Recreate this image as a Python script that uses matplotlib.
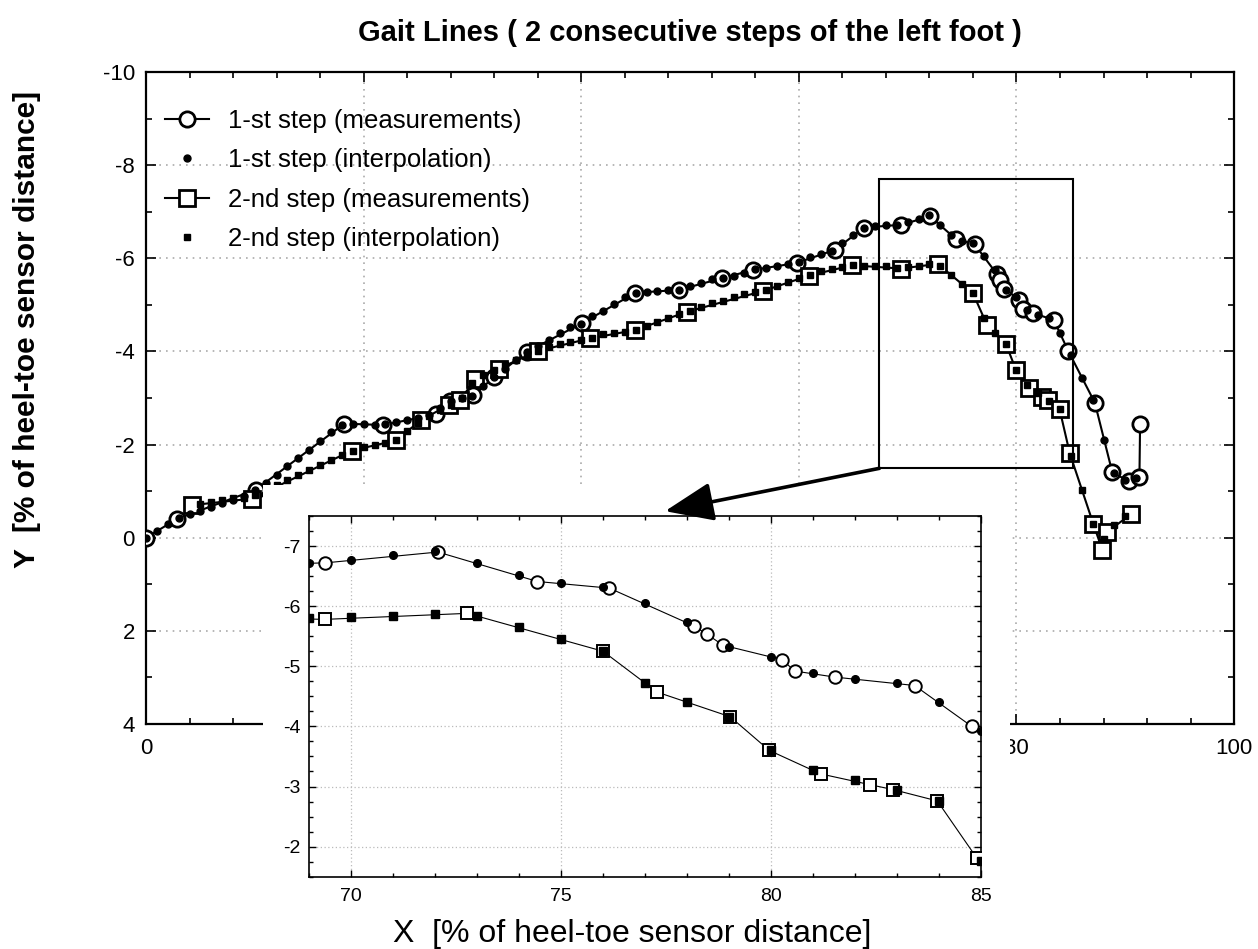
import matplotlib

matplotlib.use("Agg")
import matplotlib.pyplot as plt
from matplotlib.patches import Rectangle, FancyArrowPatch
from matplotlib.ticker import MultipleLocator

plt.rcParams["font.family"] = ["Liberation Sans", "DejaVu Sans"]
plt.rcParams["xtick.direction"] = "in"
plt.rcParams["ytick.direction"] = "in"
plt.rcParams["axes.unicode_minus"] = False

# 1-st step: measured points (in drawing order)
step1_x = [0.0, 2.82, 10.08, 18.23, 21.8, 26.65, 27.94, 30.08, 32.0, 35.0, 40.1, 44.98,
           48.95, 52.9, 55.8, 59.8, 63.3, 66.0, 69.39, 72.07, 74.44, 76.15, 78.17, 78.48,
           78.86, 80.26, 80.57, 81.52, 83.42, 84.78, 87.2, 88.8, 90.3, 91.3, 91.36]
step1_y = [0.0, -0.40, -1.03, -2.45, -2.42, -2.65, -2.94, -3.06, -3.45, -3.99, -4.61, -5.26,
           -5.32, -5.57, -5.75, -5.90, -6.18, -6.66, -6.72, -6.90, -6.41, -6.30, -5.67, -5.53,
           -5.35, -5.11, -4.92, -4.82, -4.68, -4.00, -2.90, -1.41, -1.21, -1.31, -2.45]

# 1-st step: interpolated values at X = 0, 1, ..., 91
step1_ix = list(range(0, 92))
step1_iy = [0.00, -0.14, -0.29, -0.43, -0.50, -0.58, -0.66, -0.74, -0.82, -0.90,
            -1.02, -1.18, -1.35, -1.53, -1.71, -1.89, -2.08, -2.26, -2.42, -2.44,
            -2.44, -2.42, -2.45, -2.49, -2.52, -2.57, -2.63, -2.78, -2.94, -3.00,
            -3.05, -3.25, -3.45, -3.63, -3.81, -3.99, -4.11, -4.24, -4.39, -4.53,
            -4.60, -4.76, -4.87, -5.01, -5.17, -5.26, -5.28, -5.30, -5.31, -5.32,
            -5.40, -5.47, -5.55, -5.58, -5.62, -5.69, -5.76, -5.80, -5.84, -5.87,
            -5.92, -6.02, -6.09, -6.16, -6.33, -6.50, -6.66, -6.69, -6.71, -6.72,
            -6.77, -6.85, -6.92, -6.72, -6.51, -6.38, -6.32, -6.05, -5.74, -5.32,
            -5.16, -4.88, -4.79, -4.72, -4.40, -3.92, -3.44, -2.95, -2.09, -1.39,
            -1.24, -1.29]

# 2-nd step: measured points
step2_x = [4.26, 9.71, 18.9, 22.98, 25.25, 27.8, 28.86, 30.24, 32.4, 36.0, 40.8, 44.98,
           49.7, 56.74, 60.94, 64.9, 69.38, 72.77, 76.0, 77.29, 79.03, 79.96, 81.18, 82.36,
           82.90, 83.96, 84.9, 87.07, 87.9, 88.3, 90.5]
step2_y = [-0.70, -0.84, -1.87, -2.09, -2.52, -2.85, -2.95, -3.40, -3.63, -4.01, -4.28, -4.46,
           -4.85, -5.30, -5.63, -5.85, -5.78, -5.88, -5.25, -4.57, -4.16, -3.60, -3.21, -3.03,
           -2.95, -2.76, -1.81, -0.29, 0.27, -0.12, -0.50]

# 2-nd step: interpolated values at X = 5, 6, ..., 90
step2_ix = list(range(5, 91))
step2_iy = [-0.72, -0.77, -0.82, -0.86, -0.85,
            -0.92, -1.02, -1.13, -1.24, -1.34, -1.45, -1.56, -1.66, -1.77, -1.87,
            -1.94, -1.99, -2.04, -2.10, -2.29, -2.47, -2.62, -2.75, -2.86, -3.00,
            -3.33, -3.50, -3.60, -3.70, -3.81, -3.92, -4.01, -4.10, -4.16, -4.21,
            -4.25, -4.29, -4.37, -4.40, -4.42, -4.46, -4.55, -4.64, -4.71, -4.80,
            -4.87, -4.96, -5.03, -5.09, -5.16, -5.23, -5.28, -5.32, -5.40, -5.50,
            -5.57, -5.64, -5.73, -5.78, -5.82, -5.85, -5.84, -5.83, -5.83, -5.80,
            -5.82, -5.84, -5.87, -5.84, -5.65, -5.45, -5.25, -4.72, -4.40, -4.16,
            -3.60, -3.28, -3.10, -2.94, -2.76, -1.76, -1.02, -0.29, 0.02, -0.27,
            -0.46]

# zoom window marked on the main plot
zoom_box = (67.4, -7.7, 17.8, 6.21)
arrow_tip = (47.7, -0.57)


def draw_series(ax, lw, ms, mew, dot_ms, sq_dot_ms, label=True):
    ax.plot(step1_x, step1_y, "-", color="black", lw=lw, marker="o", ms=ms, mew=mew,
            mfc="white", mec="black", zorder=3,
            label="1-st step (measurements)" if label else None)
    ax.plot(step1_ix, step1_iy, "o", color="black", ms=dot_ms, lw=0, zorder=4,
            label="1-st step (interpolation)" if label else None)
    ax.plot(step2_x, step2_y, "-", color="black", lw=lw, marker="s", ms=ms, mew=mew,
            mfc="white", mec="black", zorder=3,
            label="2-nd step (measurements)" if label else None)
    ax.plot(step2_ix, step2_iy, "s", color="black", ms=sq_dot_ms, lw=0, zorder=4,
            label="2-nd step (interpolation)" if label else None)


fig = plt.figure(figsize=(12.58, 9.49), dpi=100)

# main plot
ax = fig.add_axes([0.1161, 0.2371, 0.8649, 0.6870])
ax.set_zorder(0)
draw_series(ax, lw=1.5, ms=11, mew=2.0, dot_ms=5, sq_dot_ms=4.6)
ax.set_xlim(0, 100)
ax.set_ylim(4, -10)
ax.xaxis.set_major_locator(MultipleLocator(20))
ax.xaxis.set_minor_locator(MultipleLocator(4))
ax.yaxis.set_major_locator(MultipleLocator(2))
ax.yaxis.set_minor_locator(MultipleLocator(1))
ax.tick_params(which="both", top=True, right=True, labelsize=16, width=1.2)
ax.tick_params(which="major", length=7)
ax.tick_params(which="minor", length=4)
ax.tick_params(axis="x", pad=10)
ax.tick_params(axis="y", pad=8)
ax.grid(True, which="major", linestyle=(0, (1, 3)), color="#aaaaaa", lw=1.2)
for sp in ax.spines.values():
    sp.set_linewidth(1.6)
ax.add_patch(Rectangle(zoom_box[:2], zoom_box[2], zoom_box[3], fill=False,
                       ec="black", lw=1.5, zorder=5))
ax.legend(loc="upper left", frameon=False, fontsize=18.5, handlelength=1.7,
          labelspacing=0.6, borderaxespad=0.35, handletextpad=0.75,
          bbox_to_anchor=(0.0, 0.973))

# white area behind the inset
blank = Rectangle((0.2091, 0.0), 0.5938, 0.4889, transform=fig.transFigure,
                  facecolor="white", edgecolor="none", zorder=1)
fig.add_artist(blank)

# inset
axi = fig.add_axes([0.2456, 0.0762, 0.5342, 0.3801])
axi.set_zorder(2)
draw_series(axi, lw=0.8, ms=9, mew=1.4, dot_ms=5.5, sq_dot_ms=5.2, label=False)
axi.set_xlim(69, 85)
axi.set_ylim(-1.5, -7.5)
axi.xaxis.set_major_locator(MultipleLocator(5))
axi.xaxis.set_minor_locator(MultipleLocator(1))
axi.yaxis.set_major_locator(MultipleLocator(1))
axi.yaxis.set_minor_locator(MultipleLocator(0.25))
axi.tick_params(which="both", top=True, right=True, labelsize=14, width=1.0)
axi.tick_params(which="major", length=5)
axi.tick_params(which="minor", length=3)
axi.tick_params(axis="x", pad=8)
axi.tick_params(axis="y", pad=6)
axi.grid(True, which="major", linestyle=(0, (1, 2)), color="#bbbbbb", lw=0.9)
for sp in axi.spines.values():
    sp.set_linewidth(1.2)

# arrow from the zoom box to the inset
arrow = FancyArrowPatch((zoom_box[0], zoom_box[1] + zoom_box[3]), arrow_tip,
                        transform=ax.transData, arrowstyle="-|>,head_length=1.5,head_width=0.6",
                        mutation_scale=20, lw=2.6, color="black", zorder=6,
                        shrinkA=0, shrinkB=0)
fig.add_artist(arrow)

fig.text(0.5486, 1 - 33 / 949, "Gait Lines ( 2 consecutive steps of the left foot )",
         ha="center", va="center", fontsize=21, fontweight="bold")
fig.text(0.0215, 1 - 330 / 949, "Y  [% of heel-toe sensor distance]", rotation=90,
         ha="center", va="center", fontsize=21.5, fontweight="bold")
fig.text(632 / 1258, 1 - 934 / 949, "X  [% of heel-toe sensor distance]",
         ha="center", va="center", fontsize=23)

fig.savefig("out.png", dpi=100)
